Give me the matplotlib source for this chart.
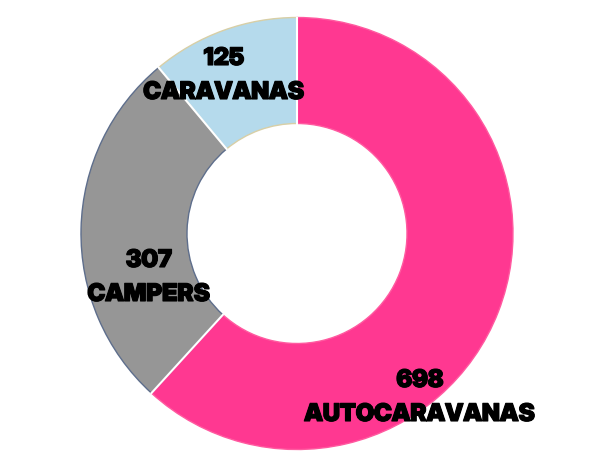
import matplotlib
matplotlib.use("Agg")
import matplotlib.pyplot as plt
import matplotlib.patheffects as pe
import numpy as np

categories = ["AUTOCARAVANAS", "CAMPERS", "CARAVANAS"]
values = [698, 307, 125]
colors = ["#FF3891", "#969696", "#B5DAEC"]
edge_colors = ["#FF5AA0", "#5E6E8C", "#D8CFA6"]
# (x centre, baseline of number, baseline of category) in pixels from top
label_pos = [(420, 387, 421), (149, 267, 301), (224, 65, 99)]

fig = plt.figure(figsize=(6, 4.69), dpi=100)
ax = fig.add_axes([0, 0, 1, 1])
H = 469
cx, cy, R, r_in = 297, H - 233.5, 216, 110
wedges, _ = ax.pie(values, colors=colors, startangle=90, counterclock=False,
                   center=(cx, cy), radius=R,
                   wedgeprops=dict(width=R - r_in, linewidth=1.0))
for w, ec in zip(wedges, edge_colors):
    w.set_edgecolor(ec)

# white separators between slices
ang = 90.0
for v in values:
    a = np.deg2rad(ang)
    ax.plot([cx + r_in * np.cos(a), cx + R * np.cos(a)],
            [cy + r_in * np.sin(a), cy + R * np.sin(a)],
            color="white", lw=1.5, zorder=3)
    ang -= 360.0 * v / sum(values)

font = dict(fontsize=17.5, fontfamily="Inter Display", fontweight=900, color="black", zorder=5,
            path_effects=[pe.Stroke(linewidth=0.8, foreground="black"), pe.Normal()])
for cat, val, (x, yb_num, yb_cat) in zip(categories, values, label_pos):
    ax.text(x, H - yb_num, f"{val}", ha="center", va="baseline", **font)
    ax.text(x, H - yb_cat, cat, ha="center", va="baseline", **font)

ax.set_xlim(0, 600)
ax.set_ylim(0, H)
ax.set_aspect("equal")
ax.axis("off")
fig.savefig("out.png", dpi=100)
